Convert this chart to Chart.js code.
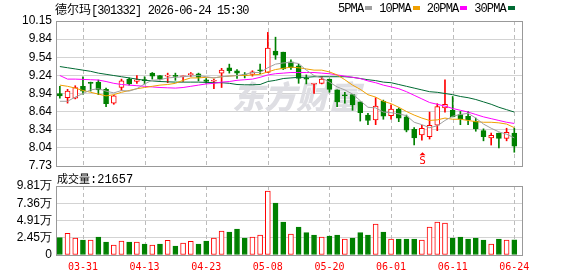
<!DOCTYPE html>
<html>
<head>
<meta charset="utf-8">
<script src="https://cdn.jsdelivr.net/npm/chart.js@4.4.1/dist/chart.umd.min.js"></script>
<style>
  body { margin: 0; width: 578px; height: 276px; background: #fff; position: relative; overflow: hidden; }
  canvas { position: absolute; left: 0; }
  .t { position: absolute; font: 12px "Liberation Mono", "Noto Sans CJK SC", monospace; letter-spacing: -0.9px; color: #000; white-space: nowrap; line-height: 14px; z-index: 2; }
  .cj { font-family: "Noto Sans CJK SC", sans-serif; letter-spacing: 0; }
  .sw { display: inline-block; width: 7px; height: 4px; margin: 0 7px 0 2px; vertical-align: 2px; }
</style>
</head>
<body>
<canvas id="price" width="578" height="178" style="top:0"></canvas>
<canvas id="vol" width="578" height="106" style="top:170px"></canvas>

<div class="t" style="left:55px;top:2px"><span class="cj">德尔玛</span>[301332] 2026-06-24 15:30</div>
<div class="t" style="left:338px;top:2px">5PMA<i class="sw" style="background:#a0a0a0"></i>10PMA<i class="sw" style="background:#f0a000"></i>20PMA<i class="sw" style="background:#ff00ff"></i>30PMA<i class="sw" style="background:#006a33"></i></div>
<div class="t" style="left:57px;top:171px;letter-spacing:0"><span class="cj" style="font-size:11px">成交量</span>:21657</div>

<script>
const dates = ['03-26','03-27','03-30','03-31','04-01','04-02','04-03','04-07','04-08','04-09',
  '04-10','04-13','04-14','04-15','04-16','04-17','04-20','04-21','04-22','04-23',
  '04-24','04-27','04-28','04-29','04-30','05-06','05-07','05-08','05-11','05-12',
  '05-13','05-14','05-15','05-18','05-19','05-20','05-21','05-22','05-25','05-26',
  '05-27','05-28','05-29','06-01','06-02','06-03','06-04','06-05','06-08','06-09',
  '06-10','06-11','06-12','06-15','06-16','06-17','06-18','06-22','06-23','06-24'];
const labelDates = ['03-31','04-13','04-23','05-08','05-20','06-01','06-11','06-24'];

const opens = [8.94,8.87,8.86,9.06,9.12,9.13,9.01,8.78,9.04,9.18,
  9.14,9.165,9.28,9.24,9.23,9.24,9.22,9.255,9.27,9.17,
  9.145,9.28,9.37,9.32,9.25,9.26,9.33,9.29,9.65,9.63,
  9.47,9.40,9.19,9.095,9.11,9.18,9.00,8.91,8.92,8.80,
  8.58,8.50,8.81,8.57,8.68,8.55,8.34,8.25,8.22,8.41,
  8.70,8.66,8.59,8.56,8.48,8.32,8.20,8.28,8.19,8.28];
const highs = [9.06,9.01,9.07,9.22,9.13,9.165,9.03,8.91,9.18,9.20,
  9.24,9.22,9.29,9.24,9.28,9.28,9.23,9.29,9.28,9.19,
  9.18,9.36,9.43,9.34,9.29,9.32,9.43,9.96,9.88,9.63,
  9.50,9.43,9.25,9.11,9.22,9.18,9.00,8.96,8.92,8.80,
  8.61,8.87,8.83,8.75,8.70,8.58,8.37,8.41,8.63,8.77,
  9.17,8.89,8.64,8.64,8.53,8.35,8.28,8.28,8.36,8.36];
const lows = [8.86,8.78,8.85,8.93,8.98,8.92,8.72,8.76,8.99,9.08,
  9.11,9.10,9.18,9.165,9.12,9.16,9.14,9.22,9.15,9.11,
  9.02,9.04,9.28,9.19,9.20,9.23,9.27,9.29,9.51,9.34,
  9.34,9.11,9.10,8.94,9.10,8.96,8.72,8.78,8.66,8.48,
  8.42,8.42,8.51,8.51,8.47,8.30,8.08,8.16,8.18,8.32,
  8.63,8.55,8.42,8.42,8.31,8.15,8.08,8.03,8.15,7.96];
const closes = [8.90,8.98,9.04,8.98,9.11,9.00,8.77,8.90,9.15,9.10,
  9.17,9.155,9.23,9.18,9.24,9.225,9.23,9.27,9.21,9.14,
  9.15,9.33,9.32,9.28,9.24,9.30,9.32,9.70,9.58,9.35,
  9.37,9.19,9.18,9.10,9.18,9.01,8.80,8.90,8.75,8.62,
  8.49,8.73,8.56,8.68,8.53,8.33,8.20,8.36,8.41,8.72,
  8.76,8.55,8.51,8.50,8.35,8.22,8.24,8.19,8.29,8.06];
const preClose = 8.96;

const volumes = [24650,30800,24200,21300,21300,25600,18500,14200,19900,18500,
  18500,15600,14200,15600,20900,12800,17000,19400,15600,19900,
  24200,34100,32700,37000,24200,25600,28400,91000,73900,46900,
  29700,39800,31700,28400,25600,27000,28400,22700,24200,31700,
  28400,44100,32700,22700,22700,22700,22700,21300,39800,46900,
  45500,24200,25600,22700,24200,21300,15600,22700,21300,21657];

const ma5 = [8.81,8.81,8.88,8.94,9.00,9.02,8.98,8.95,8.99,8.98,
  9.02,9.10,9.16,9.17,9.20,9.21,9.22,9.23,9.24,9.22,
  9.20,9.22,9.23,9.24,9.26,9.29,9.29,9.37,9.43,9.45,
  9.46,9.44,9.33,9.24,9.20,9.13,9.05,9.00,8.93,8.82,
  8.71,8.70,8.63,8.62,8.60,8.57,8.46,8.42,8.37,8.40,
  8.49,8.56,8.59,8.61,8.53,8.43,8.36,8.30,8.26,8.20];
const ma10 = [9.08,9.06,9.03,8.99,8.96,8.93,8.90,8.92,8.96,8.99,
  9.02,9.04,9.06,9.08,9.09,9.11,9.16,9.20,9.20,9.21,
  9.20,9.22,9.23,9.24,9.24,9.25,9.26,9.30,9.34,9.36,
  9.38,9.37,9.35,9.33,9.33,9.30,9.25,9.17,9.08,9.01,
  8.92,8.88,8.81,8.77,8.71,8.64,8.58,8.53,8.49,8.50,
  8.53,8.51,8.51,8.49,8.47,8.46,8.46,8.45,8.43,8.37];
const ma20 = [9.24,9.18,9.18,9.175,9.17,9.165,9.14,9.11,9.09,9.08,
  9.07,9.06,9.05,9.04,9.035,9.03,9.04,9.06,9.08,9.10,
  9.11,9.13,9.14,9.16,9.17,9.18,9.21,9.25,9.27,9.28,
  9.29,9.29,9.29,9.29,9.28,9.27,9.25,9.23,9.21,9.19,
  9.15,9.12,9.08,9.05,9.02,8.97,8.91,8.85,8.79,8.76,
  8.73,8.69,8.66,8.63,8.59,8.55,8.52,8.49,8.46,8.44];
const ma30 = [9.39,9.37,9.35,9.33,9.31,9.28,9.26,9.24,9.22,9.20,
  9.18,9.16,9.15,9.14,9.135,9.13,9.13,9.13,9.13,9.125,
  9.12,9.12,9.11,9.09,9.085,9.085,9.09,9.14,9.16,9.19,
  9.20,9.21,9.21,9.22,9.22,9.22,9.22,9.22,9.21,9.19,
  9.17,9.155,9.13,9.12,9.09,9.06,9.03,9.00,8.97,8.96,
  8.94,8.92,8.89,8.87,8.84,8.80,8.76,8.71,8.67,8.63];

const priceTicks = ['7.73','8.04','8.34','8.64','8.94','9.24','9.54','9.84','10.15'];
const volTicks = ['0','2.45万','4.91万','7.36万','9.81万'];
const signalDate = '06-05';

const RED = '#ff0000';
const GREEN = '#008000';
const priceMin = 7.73, priceMax = 10.15, volMax = 98100;
const tickIdx = labelDates.map(d => dates.indexOf(d));
const isUp = closes.map((c, i) => c >= opens[i]);
const volUp = closes.map((c, i) => c >= (i ? closes[i - 1] : preClose));

const axisFont = { family: 'Liberation Sans', size: 12 };

const xAxis = showLabels => ({
  type: 'linear', min: -0.5, max: 60, offset: false,
  afterBuildTicks: s => { s.ticks = tickIdx.map(v => ({ value: v })); },
  grid: { display: false, drawTicks: false },
  border: { display: false },
  ticks: {
    display: showLabels, autoSkip: false, maxRotation: 0, padding: 6,
    color: RED, font: { family: 'DejaVu Sans Mono', size: 10 },
    callback: v => dates[v]
  },
  afterFit: s => { s.height = showLabels ? 21 : 0; }
});

// dashed date lines at the x ticks, then the grey frame
const frame = {
  id: 'frame',
  beforeDatasetsDraw(chart) {
    const { ctx, chartArea: a, scales } = chart;
    ctx.save();
    ctx.lineWidth = 1;
    ctx.strokeStyle = '#bcbcbc';
    ctx.setLineDash([4, 3]);
    scales.x.ticks.forEach(t => {
      const x = Math.round(scales.x.getPixelForValue(t.value)) + 0.5;
      ctx.beginPath();
      ctx.moveTo(x, a.top);
      ctx.lineTo(x, a.bottom);
      ctx.stroke();
    });
    ctx.setLineDash([]);
    ctx.strokeStyle = '#999999';
    ctx.strokeRect(a.left + 0.5, a.top + 0.5, a.right - a.left, a.bottom - a.top);
    ctx.restore();
  }
};

const watermark = {
  id: 'watermark',
  beforeDatasetsDraw(chart) {
    const { ctx } = chart;
    ctx.save();
    ctx.font = 'italic 900 32px "Noto Sans CJK SC"';
    ctx.fillStyle = '#dedee3';
    ctx.textBaseline = 'alphabetic';
    ctx.fillText('东方财富', 232, 109);
    ctx.restore();
  }
};

const signal = {
  id: 'signal',
  afterDatasetsDraw(chart) {
    const { ctx, scales } = chart;
    const i = dates.indexOf(signalDate);
    const x = Math.round(scales.x.getPixelForValue(i));
    const y = scales.y.getPixelForValue(lows[i]) + 13;
    ctx.save();
    ctx.fillStyle = RED;
    ctx.beginPath();
    ctx.moveTo(x + 0.5, y - 1);
    ctx.lineTo(x + 3.5, y + 2);
    ctx.lineTo(x - 2.5, y + 2);
    ctx.closePath();
    ctx.fill();
    ctx.font = '11px "DejaVu Sans Mono"';
    ctx.textAlign = 'center';
    ctx.textBaseline = 'top';
    ctx.fillText('S', x + 0.5, y + 2);
    ctx.restore();
  }
};

const maLine = (data, color) => ({
  type: 'line',
  data: data.map((v, i) => ({ x: i, y: v })),
  borderColor: color,
  borderWidth: 1,
  pointRadius: 0,
  tension: 0,
  order: 0
});

new Chart(document.getElementById('price').getContext('2d'), {
  type: 'bar',
  data: {
    datasets: [
      maLine(ma5, '#a0a0a0'),
      maLine(ma10, '#f0a000'),
      maLine(ma20, '#ff00ff'),
      maLine(ma30, '#006a33'),
      {
        data: opens.map((o, i) => ({ x: i, y: [o, closes[i]] })),
        backgroundColor: isUp.map(u => u ? '#ffffff' : GREEN),
        borderColor: isUp.map(u => u ? RED : GREEN),
        borderWidth: 1,
        borderSkipped: false,
        barThickness: 5,
        minBarLength: 1,
        grouped: false,
        order: 1
      },
      {
        data: lows.map((l, i) => ({ x: i, y: [l, highs[i]] })),
        backgroundColor: isUp.map(u => u ? RED : GREEN),
        borderWidth: 0,
        barThickness: 1,
        grouped: false,
        order: 2
      }
    ]
  },
  options: {
    responsive: false,
    animation: false,
    layout: { padding: { top: 21, right: 56, bottom: 12, left: 0 } },
    plugins: { legend: { display: false }, tooltip: { enabled: false } },
    scales: {
      x: xAxis(false),
      y: {
        min: priceMin, max: priceMax,
        afterBuildTicks: s => {
          s.ticks = priceTicks.map((t, k) => ({ value: priceMin + k * (priceMax - priceMin) / 8 }));
        },
        ticks: { autoSkip: false, padding: 4, color: '#000', font: axisFont, callback: (v, k) => priceTicks[k] },
        grid: { color: '#d3d3d3', drawTicks: false },
        border: { display: false },
        afterFit: s => { s.width = 56; }
      }
    }
  },
  plugins: [frame, watermark, signal]
});

new Chart(document.getElementById('vol').getContext('2d'), {
  type: 'bar',
  data: {
    datasets: [{
      data: volumes.map((v, i) => ({ x: i, y: v })),
      backgroundColor: volUp.map(u => u ? '#ffffff' : GREEN),
      borderColor: volUp.map(u => u ? RED : GREEN),
      borderWidth: 1,
      borderSkipped: false,
      barThickness: 5,
      grouped: false
    }]
  },
  options: {
    responsive: false,
    animation: false,
    layout: { padding: { top: 16, right: 56, bottom: 0, left: 0 } },
    plugins: { legend: { display: false }, tooltip: { enabled: false } },
    scales: {
      x: xAxis(true),
      y: {
        min: 0, max: volMax,
        afterBuildTicks: s => {
          s.ticks = volTicks.map((t, k) => ({ value: k * volMax / 4 }));
        },
        ticks: { autoSkip: false, padding: 4, color: '#000', font: axisFont, callback: (v, k) => volTicks[k] },
        grid: { color: '#d3d3d3', drawTicks: false },
        border: { display: false },
        afterFit: s => { s.width = 56; }
      }
    }
  },
  plugins: [frame]
});
</script>
</body>
</html>
